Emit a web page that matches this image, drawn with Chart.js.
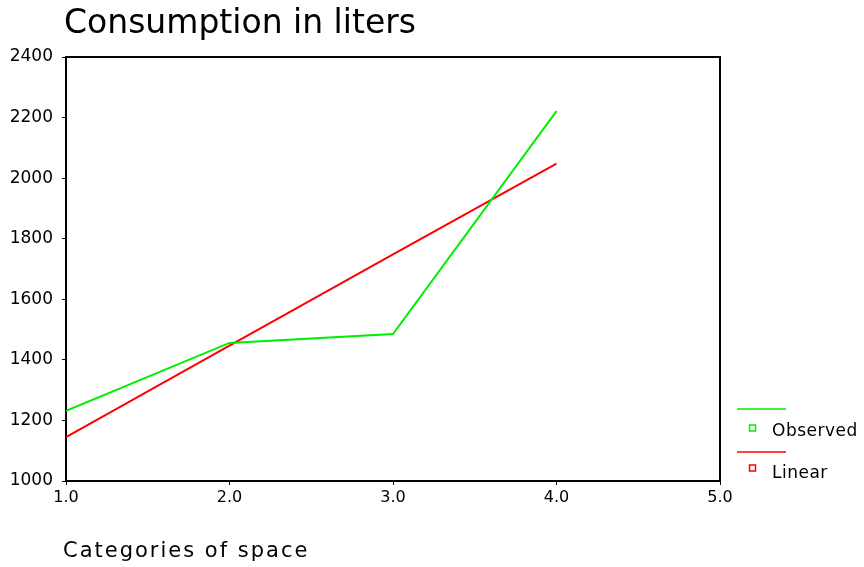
<!DOCTYPE html>
<html>
<head>
<meta charset="utf-8">
<script src="https://cdn.jsdelivr.net/npm/chart.js@4"></script>
<style>
  body { margin: 0; background: #fff; }
  canvas { display: block; }
</style>
</head>
<body>
<canvas id="chart" width="864" height="567"></canvas>
<script>
  // values
  const categories = [1, 2, 3, 4];
  const observed = [1232, 1456, 1485, 2221];
  const linear = [1145, 1447, 1748, 2048];
  const xTickRange = [1, 5];
  const yTickRange = [1000, 2400];
  const yStep = 200;

  const font = 'DejaVu Sans';

  const toPoints = (ys) => categories.map((x, i) => ({ x: x, y: ys[i] }));

  // frame, titles and legend, drawn the way the SPSS output lays them out
  const decorations = {
    id: 'decorations',
    afterDraw(chart) {
      const ctx = chart.ctx;
      const a = chart.chartArea;
      ctx.save();
      ctx.strokeStyle = '#000';
      ctx.lineWidth = 2;
      ctx.beginPath();
      ctx.moveTo(a.left, a.top);
      ctx.lineTo(a.right, a.top);
      ctx.lineTo(a.right, a.bottom);
      ctx.stroke();

      ctx.fillStyle = '#000';
      ctx.textBaseline = 'alphabetic';
      ctx.textAlign = 'left';
      ctx.font = '33px "' + font + '"';
      ctx.fillText('Consumption in liters', 64, 33);

      ctx.font = '21px "' + font + '"';
      ctx.letterSpacing = '2px';
      ctx.fillText('Categories of space', 63, 557);

      // legend
      const items = [
        { label: 'Observed', color: '#00ee00', lineY: 409, boxY: 428, textY: 436 },
        { label: 'Linear', color: '#ff0000', lineY: 452, boxY: 468, textY: 478 }
      ];
      ctx.letterSpacing = '0.5px';
      ctx.font = '17px "' + font + '"';
      items.forEach(it => {
        ctx.strokeStyle = it.color;
        ctx.lineWidth = 1.5;
        ctx.beginPath();
        ctx.moveTo(737, it.lineY);
        ctx.lineTo(786, it.lineY);
        ctx.stroke();
        ctx.lineWidth = 1.5;
        ctx.strokeRect(749.5, it.boxY - 3, 6, 6);
        ctx.fillStyle = '#000';
        ctx.fillText(it.label, 772, it.textY);
      });
      ctx.restore();
    }
  };

  new Chart(document.getElementById('chart'), {
    type: 'line',
    data: {
      datasets: [{
        label: 'Observed',
        data: toPoints(observed),
        borderColor: '#00ee00',
        borderWidth: 2,
        pointRadius: 0,
        tension: 0
      }, {
        label: 'Linear',
        data: toPoints(linear),
        borderColor: '#ff0000',
        borderWidth: 2,
        pointRadius: 0,
        tension: 0
      }]
    },
    options: {
      responsive: false,
      animation: false,
      devicePixelRatio: 1,
      layout: { padding: { top: 57, right: 144, left: 0, bottom: 0 } },
      plugins: {
        legend: { display: false },
        title: { display: false },
        tooltip: { enabled: false }
      },
      scales: {
        x: {
          type: 'linear',
          min: xTickRange[0],
          max: xTickRange[1],
          afterFit: (s) => { s.height = 86; },
          ticks: {
            stepSize: 1,
            color: '#000',
            padding: 3,
            maxRotation: 0,
            font: { family: font, size: 16 },
            callback: (v) => Number(v).toFixed(1)
          },
          grid: { drawOnChartArea: false, drawTicks: true, tickLength: 4, tickColor: '#000' },
          border: { display: true, color: '#000', width: 2 }
        },
        y: {
          min: yTickRange[0],
          max: yTickRange[1],
          afterFit: (s) => { s.width = 66; },
          ticks: {
            stepSize: yStep,
            color: '#000',
            padding: 9,
            font: { family: font, size: 17 },
            callback: (v) => String(v)
          },
          grid: { drawOnChartArea: false, drawTicks: true, tickLength: 4, tickColor: '#000' },
          border: { display: true, color: '#000', width: 2 }
        }
      }
    },
    plugins: [decorations]
  });
</script>
</body>
</html>
